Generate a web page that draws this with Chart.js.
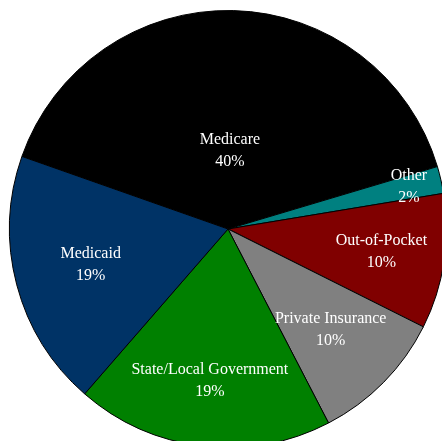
<!DOCTYPE html>
<html>
<head>
<meta charset="utf-8">
<script src="https://cdn.jsdelivr.net/npm/chart.js@4/dist/chart.umd.min.js"></script>
<style>
  html, body { margin: 0; padding: 0; background: #ffffff; overflow: hidden; width: 442px; height: 441px; }
  #wrap { position: absolute; left: -1px; top: 0px; width: 458px; height: 458px; }
</style>
</head>
<body>
<div id="wrap"><canvas id="c" width="458" height="458"></canvas></div>
<script>
const categories = ["Medicare", "Other", "Out-of-Pocket", "Private Insurance", "State/Local Government", "Medicaid"];
const shares = [40, 2, 10, 10, 19, 19];
const percentLabels = ["40%", "2%", "10%", "10%", "19%", "19%"];
const sliceColors = ["#000000", "#008080", "#800000", "#808080", "#008000", "#003366"];
// radial position of each label as a fraction of the radius
const labelRadius = [0.36, 0.85, 0.71, 0.66, 0.70, 0.65];

const labelPlugin = {
  id: 'sliceLabels',
  afterDatasetsDraw(chart) {
    const ctx = chart.ctx;
    const meta = chart.getDatasetMeta(0);
    ctx.save();
    ctx.fillStyle = '#ffffff';
    ctx.font = '16px "Liberation Serif", "DejaVu Serif", serif';
    ctx.textAlign = 'center';
    ctx.textBaseline = 'middle';
    meta.data.forEach((arc, i) => {
      const p = arc.getProps(['x', 'y', 'startAngle', 'endAngle', 'outerRadius'], true);
      const mid = (p.startAngle + p.endAngle) / 2;
      const r = p.outerRadius * labelRadius[i];
      const cx = p.x + Math.cos(mid) * r;
      const cy = p.y + Math.sin(mid) * r;
      ctx.fillText(categories[i], cx, cy - 11);
      ctx.fillText(percentLabels[i], cx, cy + 11);
    });
    ctx.restore();
  }
};

new Chart(document.getElementById('c'), {
  type: 'pie',
  data: {
    labels: categories,
    datasets: [{
      data: shares,
      backgroundColor: sliceColors,
      borderColor: '#000000',
      borderWidth: 1
    }]
  },
  options: {
    responsive: false,
    animation: false,
    rotation: -70.6,
    layout: { padding: 10 },
    plugins: { legend: { display: false }, tooltip: { enabled: false } }
  },
  plugins: [labelPlugin]
});
</script>
</body>
</html>
